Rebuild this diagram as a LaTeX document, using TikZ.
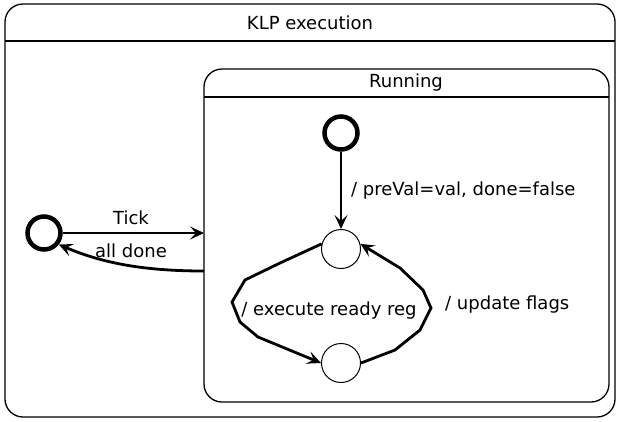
\documentclass[tikz,border=0pt]{standalone}
\usepackage{fontspec}
\setmainfont{DejaVu Sans}
\usetikzlibrary{arrows.meta}
\begin{document}
\begin{tikzpicture}[x=1pt,y=-1pt,
  region/.style={draw,line width=1.3pt,rounded corners=18pt},
  initstate/.style={circle,draw,line width=4.5pt,minimum size=33pt,inner sep=0pt},
  plainstate/.style={circle,draw,line width=1pt,minimum size=39pt,inner sep=0pt},
  trans/.style={line width=2.8pt,-{Stealth[length=14pt,width=13pt,inset=6pt]}},
  lbl/.style={font=\fontsize{18}{21}\selectfont,inner sep=1pt}]
\useasboundingbox (0,0) rectangle (620,421);
% outer region
\draw[region] (5,4) rectangle (615,417);
\draw[line width=1.3pt] (5,41) -- (615,41);
\node[lbl] (outertitle) at (310,23) {KLP execution};
% inner region
\draw[region] (204,69) rectangle (609,402);
\draw[line width=1.3pt] (204,97) -- (609,97);
\node[lbl] (innertitle) at (406,83) {Running};
\coordinate (runW1) at (204,233);
\coordinate (runW2) at (204,271);
% outer states
\node[initstate] (oinit) at (44,233) {};
\draw[trans] (oinit) -- (runW1);
\node[lbl] (ticklbl) at (131,218) {Tick};
\draw[trans] (runW2) .. controls (140,271) and (100,262) .. (oinit.-38);
\node[lbl] (donelbl) at (131,251) {all done};
% inner states
\node[initstate] (iinit) at (341,133) {};
\node[plainstate] (s1) at (341,249) {};
\node[plainstate] (s2) at (341,363) {};
\draw[trans] (iinit) -- (s1);
\node[lbl,anchor=west] (initlbl) at (350,191) {/ preVal=val, done=false};
\draw[trans] (s1.165) -- (280,263) -- (245,280) -- (232,302) -- (240,322) -- (258,337) -- (s2.180);
\node[lbl] (execlbl) at (329,311) {/ execute ready reg};
\draw[trans] (s2.0) -- (395,350) -- (420,330) -- (431,308) -- (423,290) -- (400,268) -- (s1.15);
\node[lbl,anchor=west] (updlbl) at (444,305) {/ update flags};
\end{tikzpicture}
\end{document}
